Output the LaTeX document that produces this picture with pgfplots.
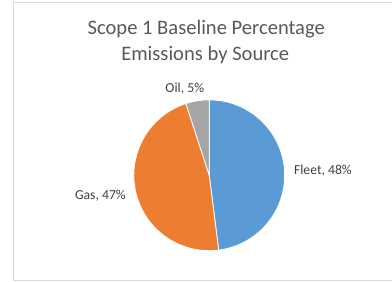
\documentclass[border=0pt]{standalone}
\usepackage{fontspec}
\setmainfont{Carlito}
\usepackage{pgfplots}
\usepackage{pgfplotstable}
\pgfplotsset{compat=1.18}
\definecolor{fleetblue}{HTML}{5B9BD5}
\definecolor{gasorange}{HTML}{ED7D31}
\definecolor{oilgray}{HTML}{A5A5A5}
\definecolor{titlegray}{HTML}{595959}
\definecolor{labelgray}{HTML}{404040}
\definecolor{bordergray}{HTML}{D9D9D9}
\pgfplotstableread{
label value
Fleet 48
Gas 47
Oil 5
}\piedata
\begin{document}
\begin{tikzpicture}
\pgfplotstablegetelem{0}{value}\of\piedata \let\vA\pgfplotsretval
\pgfplotstablegetelem{1}{value}\of\piedata \let\vB\pgfplotsretval
\pgfplotstablegetelem{2}{value}\of\piedata \let\vC\pgfplotsretval
\pgfmathsetmacro{\aA}{90}
\pgfmathsetmacro{\aB}{\aA-3.6*\vA}
\pgfmathsetmacro{\aC}{\aB-3.6*\vB}
\pgfmathsetmacro{\aD}{\aC-3.6*\vC}
\begin{axis}[
  width=392bp, height=282bp, scale only axis,
  xmin=0, xmax=392, ymin=0, ymax=282,
  hide axis, clip=false,
]
\path (axis cs:0,0) rectangle (axis cs:392,282);
\draw[bordergray, line width=1bp] (axis cs:392,279) -- (axis cs:13.5,279) -- (axis cs:13.5,1) -- (axis cs:392,1);
\addplot[fill=fleetblue, draw=white, line width=0.8bp, domain=\aB:\aA, samples=90, variable=\t]
  ({209.5+75.5*cos(\t)},{106.5+75.5*sin(\t)}) -- (axis cs:209.5,106.5) -- cycle;
\addplot[fill=gasorange, draw=white, line width=0.8bp, domain=\aC:\aB, samples=90, variable=\t]
  ({209.5+75.5*cos(\t)},{106.5+75.5*sin(\t)}) -- (axis cs:209.5,106.5) -- cycle;
\addplot[fill=oilgray, draw=white, line width=0.8bp, domain=\aD:\aC, samples=20, variable=\t]
  ({209.5+75.5*cos(\t)},{106.5+75.5*sin(\t)}) -- (axis cs:209.5,106.5) -- cycle;
\node[anchor=base, text=titlegray, font=\fontsize{20.6bp}{24bp}\selectfont] at (axis cs:206.5,247) {Scope 1 Baseline Percentage};
\node[anchor=base, text=titlegray, font=\fontsize{20.6bp}{24bp}\selectfont] at (axis cs:205.5,221.3) {Emissions by Source};
\node[anchor=base, text=labelgray, font=\fontsize{13.7bp}{16bp}\selectfont] at (axis cs:323.3,107) {Fleet, 48\%};
\node[anchor=base, text=labelgray, font=\fontsize{13.7bp}{16bp}\selectfont] at (axis cs:100.5,82) {Gas, 47\%};
\node[anchor=base, text=labelgray, font=\fontsize{13.7bp}{16bp}\selectfont] at (axis cs:185,189) {Oil, 5\%};
\end{axis}
\end{tikzpicture}
\end{document}
